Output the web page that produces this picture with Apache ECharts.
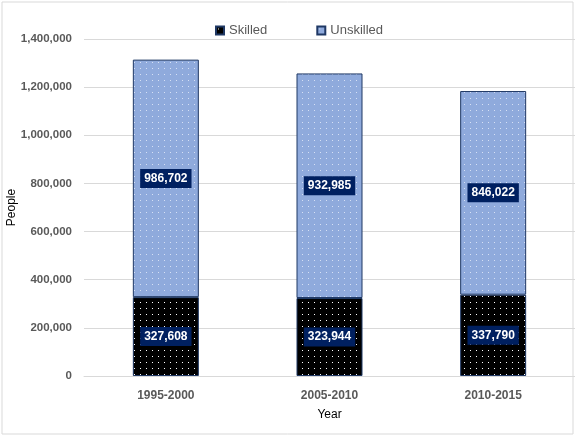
<!DOCTYPE html>
<html><head><meta charset="utf-8">
<script src="https://cdn.jsdelivr.net/npm/echarts@6/dist/echarts.min.js"></script>
<style>html,body{margin:0;padding:0;background:#fff}#c{width:575px;height:437px}</style>
</head><body><div id="c"></div>
<script>
const categories = ['1995-2000', '2005-2010', '2010-2015'];
const skilled = [327608, 323944, 337790];
const unskilled = [986702, 932985, 846022];
const yTicks = [0, 200000, 400000, 600000, 800000, 1000000, 1200000, 1400000];

function pattern(bg, dot) {
  const c = document.createElement('canvas');
  c.width = 6; c.height = 6;
  const g = c.getContext('2d');
  g.fillStyle = bg; g.fillRect(0, 0, 6, 6);
  g.fillStyle = dot; g.fillRect(2, 2, 1, 1);
  return { image: c, repeat: 'repeat' };
}
const font = '"Liberation Sans", Arial, sans-serif';
const label = {
  show: true, position: 'inside', color: '#fff', fontWeight: 'bold', fontSize: 12,
  fontFamily: font, backgroundColor: '#002060', padding: [4, 4, 3, 4],
  formatter: p => p.value.toLocaleString('en-US')
};
const chart = echarts.init(document.getElementById('c'));
chart.setOption({
  animation: false,
  graphic: [{ type: 'rect', shape: { x: 2, y: 2, width: 571, height: 432 }, style: { fill: 'none', stroke: '#d9d9d9', lineWidth: 1 } }],
  legend: {
    top: 19, left: 210, itemGap: 49, itemWidth: 8, itemHeight: 8, icon: 'rect',
    textStyle: { fontSize: 13, color: '#595959', fontFamily: font }
  },
  grid: { left: 84, right: 0, top: 39, bottom: 61, containLabel: false, outerBoundsMode: 'none' },
  xAxis: {
    type: 'category', data: categories, name: 'Year', nameLocation: 'middle', nameGap: 33,
    nameTextStyle: { fontSize: 12, color: '#000', fontFamily: font },
    axisLine: { lineStyle: { color: '#d9d9d9' } }, axisTick: { show: false },
    axisLabel: { fontSize: 12, fontWeight: 'bold', color: '#595959', margin: 14, fontFamily: font }
  },
  yAxis: {
    type: 'value', min: yTicks[0], max: yTicks[yTicks.length - 1], interval: 200000,
    name: 'People', nameLocation: 'middle', nameGap: 66, nameMoveOverlap: false,
    nameTextStyle: { fontSize: 12, color: '#000', fontFamily: font },
    axisLine: { show: false }, axisTick: { show: false },
    splitLine: { lineStyle: { color: '#d9d9d9' } },
    axisLabel: { fontSize: 11.5, fontWeight: 'bold', color: '#595959', margin: 12, fontFamily: font,
      formatter: v => v.toLocaleString('en-US') }
  },
  series: [
    { name: 'Skilled', type: 'bar', stack: 't', barWidth: 66, data: skilled,
      itemStyle: { color: pattern('#000000', '#ffffff'), borderColor: '#1f3864', borderWidth: 1 }, label },
    { name: 'Unskilled', type: 'bar', stack: 't', barWidth: 66, data: unskilled,
      itemStyle: { color: pattern('#8faadc', '#d6e0f5'), borderColor: '#1f3864', borderWidth: 1 }, label }
  ]
});
</script></body></html>
